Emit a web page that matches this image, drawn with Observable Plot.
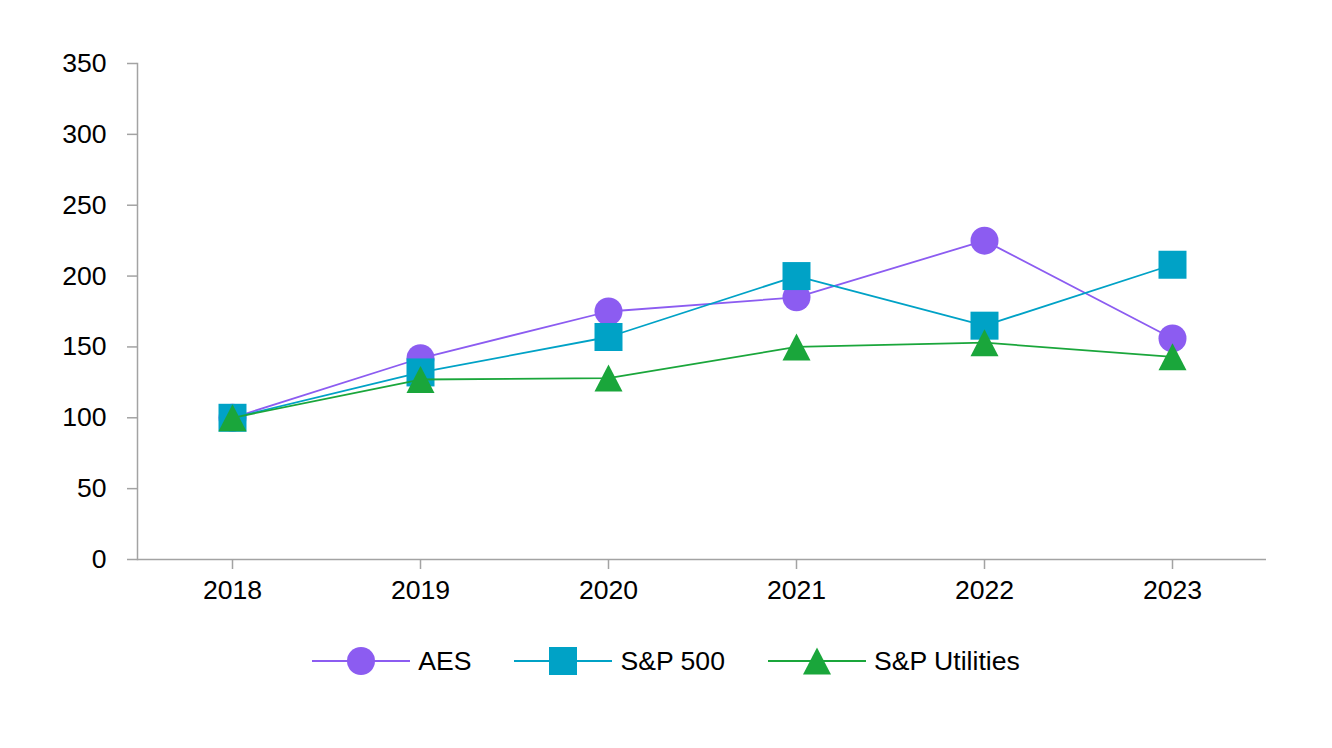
<!DOCTYPE html>
<html>
<head>
<meta charset="utf-8">
<script src="https://cdn.jsdelivr.net/npm/d3@7"></script>
<script src="https://cdn.jsdelivr.net/npm/@observablehq/plot@0.6"></script>
<style>
  html, body { margin: 0; padding: 0; background: #fff; }
  body { width: 1332px; height: 748px; overflow: hidden; font-family: "Liberation Sans", Arial, sans-serif; }
  #legend { display: flex; justify-content: center; align-items: center; gap: 43px; margin-top: 25px; font-size: 26.6px; color: #000; }
  .item { display: flex; align-items: center; }
  .item svg { margin-right: 8px; display: block; }
</style>
</head>
<body>
<div id="chart"></div>
<div id="legend"></div>
<script>
const years = ["2018", "2019", "2020", "2021", "2022", "2023"];
const seriesNames = ["AES", "S&P 500", "S&P Utilities"];
const aes = [100, 142, 175, 185, 225, 156];
const sp500 = [100, 132, 157, 200, 165, 208];
const utilities = [100, 127, 128, 150, 153, 143];
const yTicks = [0, 50, 100, 150, 200, 250, 300, 350];
const colors = ["#8C5CF1", "#00A2C6", "#1AA63B"];

const circleSym = {draw(ctx) { ctx.moveTo(14, 0); ctx.arc(0, 0, 14, 0, 2 * Math.PI); ctx.closePath(); }};
const squareSym = {draw(ctx) { ctx.rect(-14, -14, 28, 28); }};
const triSym = {draw(ctx) { ctx.moveTo(0, -13.5); ctx.lineTo(14, 13.5); ctx.lineTo(-14, 13.5); ctx.closePath(); }};
const symbols = [circleSym, squareSym, triSym];

const valuesList = [aes, sp500, utilities];
const tables = valuesList.map((vals, s) => years.map((yr, i) => ({year: yr, value: vals[i], series: seriesNames[s]})));

const axisColor = "#a3a3a3";
const marks = [
  Plot.ruleY([0], {stroke: axisColor, strokeWidth: 1.5}),
  Plot.frame({anchor: "left", stroke: axisColor, strokeWidth: 1.5}),
  Plot.axisY({ticks: yTicks, tickSize: 10, tickPadding: 21, stroke: axisColor, strokeWidth: 1.5, fill: "#000", label: null}),
  Plot.axisX({tickSize: 10, tickPadding: 11, stroke: axisColor, strokeWidth: 1.5, fill: "#000", label: null})
];
tables.forEach((t, s) => {
  marks.push(Plot.line(t, {x: "year", y: "value", stroke: colors[s], strokeWidth: 1.8}));
  marks.push(Plot.dot(t, {x: "year", y: "value", fill: colors[s], stroke: "none", symbol: symbols[s], r: 14}));
});

const chart = Plot.plot({
  width: 1332,
  height: 620,
  marginTop: 63,
  marginBottom: 61,
  marginLeft: 137,
  marginRight: 66,
  style: {fontFamily: "'Liberation Sans', Arial, sans-serif", fontSize: "26.6px", color: "#000", background: "#fff", overflow: "visible"},
  x: {type: "point", domain: years, padding: 0.5},
  y: {domain: [0, 350]},
  marks
});
document.getElementById("chart").appendChild(chart);

// Legend
const legend = d3.select("#legend");
seriesNames.forEach((name, s) => {
  const item = legend.append("div").attr("class", "item");
  const svg = item.append("svg").attr("width", 98).attr("height", 32);
  svg.append("line").attr("x1", 0).attr("x2", 98).attr("y1", 16).attr("y2", 16)
    .attr("stroke", colors[s]).attr("stroke-width", 1.8);
  svg.append("path").attr("d", d3.symbol().type(symbols[s])()).attr("transform", "translate(49,16)")
    .attr("fill", colors[s]);
  item.append("span").text(name);
});
</script>
</body>
</html>
